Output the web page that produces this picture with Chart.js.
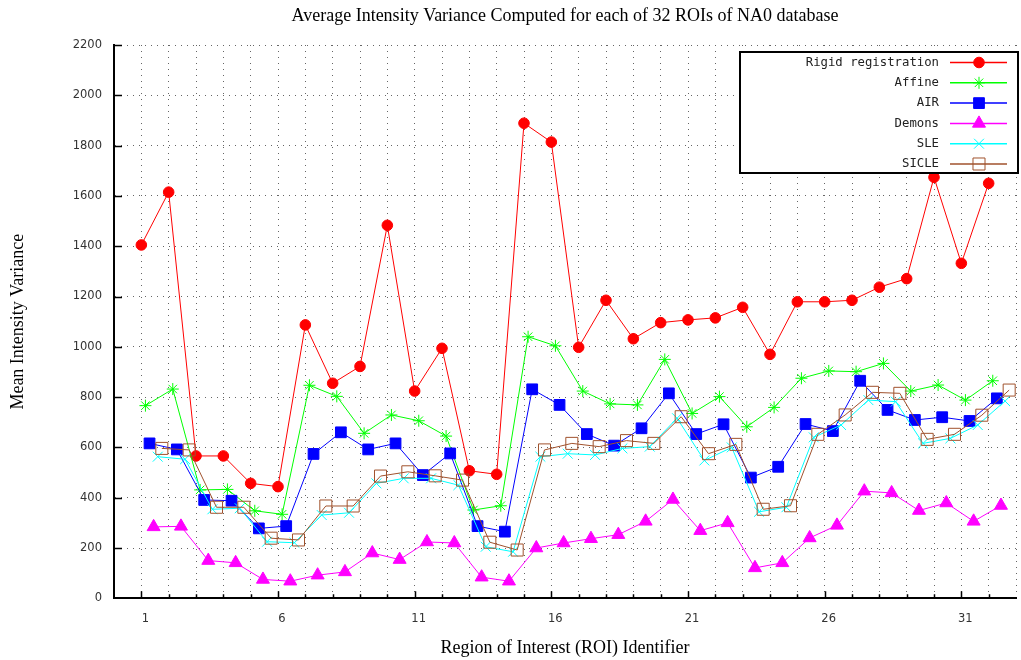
<!DOCTYPE html>
<html>
<head>
<meta charset="utf-8">
<script src="https://cdn.jsdelivr.net/npm/chart.js@4.4.1/dist/chart.umd.min.js"></script>
<style>
html, body { margin: 0; padding: 0; overflow: hidden; background: #fff; width: 1021px; height: 660px; }
#wrap { width: 1030px; height: 660px; }
</style>
</head>
<body>
<div id="wrap"><canvas id="c" width="1030" height="660" style="width:1030px;height:660px"></canvas></div>
<script>
// ---------- data ----------
const chartTitle = 'Average Intensity Variance Computed for each of 32 ROIs of NA0 database';
const xAxisTitle = 'Region of Interest (ROI) Identifier';
const yAxisTitle = 'Mean Intensity Variance';
const roiIds = [1, 2, 3, 4, 5, 6, 7, 8, 9, 10, 11, 12, 13, 14, 15, 16, 17, 18, 19, 20, 21, 22, 23, 24, 25, 26, 27, 28, 29, 30, 31, 32];
const xTickLabels = [1, 6, 11, 16, 21, 26, 31];
const seriesNames = ['Rigid registration', 'Affine', 'AIR', 'Demons', 'SLE', 'SICLE'];
const rigidValues  = [1405, 1615, 566, 566, 457, 444, 1087, 855, 922, 1483, 824, 994, 507, 493, 1889, 1814, 998, 1185, 1032, 1096, 1107, 1115, 1157, 970, 1179, 1179, 1185, 1237, 1271, 1674, 1332, 1650];
const affineValues = [766, 832, 431, 433, 348, 334, 847, 803, 656, 729, 706, 645, 351, 368, 1040, 1004, 824, 773, 769, 950, 735, 802, 682, 759, 875, 904, 901, 934, 824, 848, 788, 865];
const airValues    = [616, 592, 391, 388, 278, 287, 574, 660, 592, 616, 490, 576, 287, 265, 831, 769, 653, 607, 676, 815, 653, 692, 480, 523, 693, 665, 865, 749, 709, 720, 705, 795];
const demonsValues = [284, 286, 150, 141, 75, 68, 92, 105, 180, 154, 224, 220, 84, 68, 200, 220, 237, 253, 306, 393, 269, 300, 121, 141, 240, 290, 426, 419, 349, 379, 306, 369];
const sleValues    = [563, 553, 354, 358, 225, 221, 331, 340, 457, 477, 477, 450, 205, 185, 563, 575, 570, 596, 603, 716, 548, 600, 344, 362, 640, 689, 788, 782, 616, 636, 689, 784];
const sicleValues  = [596, 590, 362, 362, 239, 232, 367, 367, 486, 503, 487, 470, 223, 192, 590, 616, 603, 627, 616, 722, 575, 612, 354, 368, 652, 729, 819, 815, 632, 652, 728, 828];

// ---------- styling (not data) ----------
const seriesValues = [rigidValues, affineValues, airValues, demonsValues, sleValues, sicleValues];
const seriesColors = ['#ff0000', '#00ff00', '#0000ff', '#ff00ff', '#00ffff', '#a0522d'];
const seriesPointStyles = ['circle', 'star', 'rect', 'triangle', 'crossRot', 'rect'];
const seriesPointRadius = [5.3, 6, 7.6, 7.5, 7, 8.5];
const seriesFill = [true, true, true, true, true, false];
const seriesShift = [0, 0.15, 0.3, 0.45, 0.6, 0.75];
const serifFont = '"Liberation Serif", "Times New Roman", serif';

const datasets = seriesNames.map((name, k) => ({
  label: name,
  data: seriesValues[k].map((v, i) => ({ x: roiIds[i] + seriesShift[k], y: v })),
  borderColor: seriesColors[k],
  backgroundColor: seriesFill[k] ? seriesColors[k] : 'rgba(0,0,0,0)',
  pointBackgroundColor: seriesFill[k] ? seriesColors[k] : 'rgba(0,0,0,0)',
  pointBorderColor: seriesColors[k],
  pointStyle: seriesPointStyles[k],
  pointRadius: seriesPointRadius[k],
  pointBorderWidth: 1,
  borderWidth: 1,
  fill: false,
  tension: 0,
  order: seriesNames.length - k
}));

const inwardTicks = {
  id: 'inwardTicks',
  beforeDatasetsDraw(chart) {
    const { ctx, chartArea: a, scales: { x, y } } = chart;
    ctx.save();
    ctx.strokeStyle = '#000';
    ctx.lineWidth = 1.5;
    ctx.beginPath();
    x.ticks.forEach(t => {
      if (t.value <= x.min || t.value >= x.max) return;
      const px = Math.round(x.getPixelForValue(t.value)) + 0.5;
      const len = xTickLabels.includes(t.value) ? 7 : 4;
      ctx.moveTo(px, a.bottom);
      ctx.lineTo(px, a.bottom - len);
    });
    y.ticks.forEach(t => {
      if (t.value <= y.min) return;
      const py = Math.round(y.getPixelForValue(t.value)) + 0.5;
      ctx.moveTo(a.left, py);
      ctx.lineTo(a.left + 8, py);
    });
    ctx.stroke();
    ctx.restore();
  }
};

const boxLegend = {
  id: 'boxLegend',
  afterDatasetsDraw(chart) {
    const ctx = chart.ctx;
    const L = 740, T = 52, R = 1018, B = 173;
    ctx.save();
    ctx.fillStyle = '#fff';
    ctx.fillRect(L, T, R - L, B - T);
    ctx.strokeStyle = '#000';
    ctx.lineWidth = 2;
    ctx.strokeRect(L, T, R - L, B - T);
    ctx.font = '12.3px "DejaVu Sans Mono", "Liberation Mono", monospace';
    ctx.textAlign = 'right';
    ctx.textBaseline = 'middle';
    chart.data.datasets.forEach((ds, i) => {
      const yy = 62.5 + i * 20.3;
      ctx.fillStyle = '#222';
      ctx.fillText(ds.label, 939, yy);
      ctx.strokeStyle = ds.borderColor;
      ctx.lineWidth = 1.5;
      ctx.beginPath();
      ctx.moveTo(950, yy);
      ctx.lineTo(1007, yy);
      ctx.stroke();
      ctx.fillStyle = ds.pointBackgroundColor;
      ctx.strokeStyle = ds.pointBorderColor;
      ctx.lineWidth = 1;
      Chart.helpers.drawPoint(ctx, { pointStyle: ds.pointStyle, rotation: 0, radius: ds.pointRadius, borderWidth: 1 }, 979, yy);
    });
    ctx.restore();
  }
};

Chart.defaults.font.family = '"DejaVu Sans", sans-serif';

new Chart(document.getElementById('c'), {
  type: 'line',
  data: { datasets },
  plugins: [inwardTicks, boxLegend],
  options: {
    responsive: false,
    animation: false,
    devicePixelRatio: 1,
    layout: { padding: { left: 0, right: 1.3, top: 0, bottom: 0 } },
    plugins: {
      legend: { display: false },
      tooltip: { enabled: false },
      title: {
        display: true,
        text: chartTitle,
        fullSize: false,
        color: '#000',
        font: { family: serifFont, size: 18, weight: 'normal' },
        padding: { top: 5.2, bottom: 18.2 }
      }
    },
    scales: {
      x: {
        type: 'linear',
        min: 0,
        max: 33,
        afterFit(scale) { scale.height = 61.7; },
        ticks: {
          stepSize: 1,
          autoSkip: false,
          maxRotation: 0,
          padding: 14,
          labelOffset: 4,
          color: '#333',
          font: { size: 11.5 },
          callback: v => xTickLabels.includes(v) ? String(v) : ''
        },
        grid: { color: '#666', lineWidth: 1, drawTicks: false },
        border: { display: true, color: '#000', width: 2, dash: [1, 5] },
        title: {
          display: true,
          text: xAxisTitle,
          color: '#000',
          font: { family: serifFont, size: 18, weight: 'normal' },
          padding: { top: 0, bottom: 1.2 }
        }
      },
      y: {
        min: 0,
        max: 2200,
        afterFit(scale) { scale.width = 114; },
        ticks: {
          stepSize: 200,
          padding: 12,
          color: '#333',
          font: { size: 11.5 },
          callback: v => String(v)
        },
        grid: { color: '#666', lineWidth: 1, drawTicks: false },
        border: { display: true, color: '#000', width: 2, dash: [1, 5] },
        title: {
          display: true,
          text: yAxisTitle,
          color: '#000',
          font: { family: serifFont, size: 18, weight: 'normal' },
          padding: { top: 7.2, bottom: 0 }
        }
      }
    }
  }
});
</script>
</body>
</html>
